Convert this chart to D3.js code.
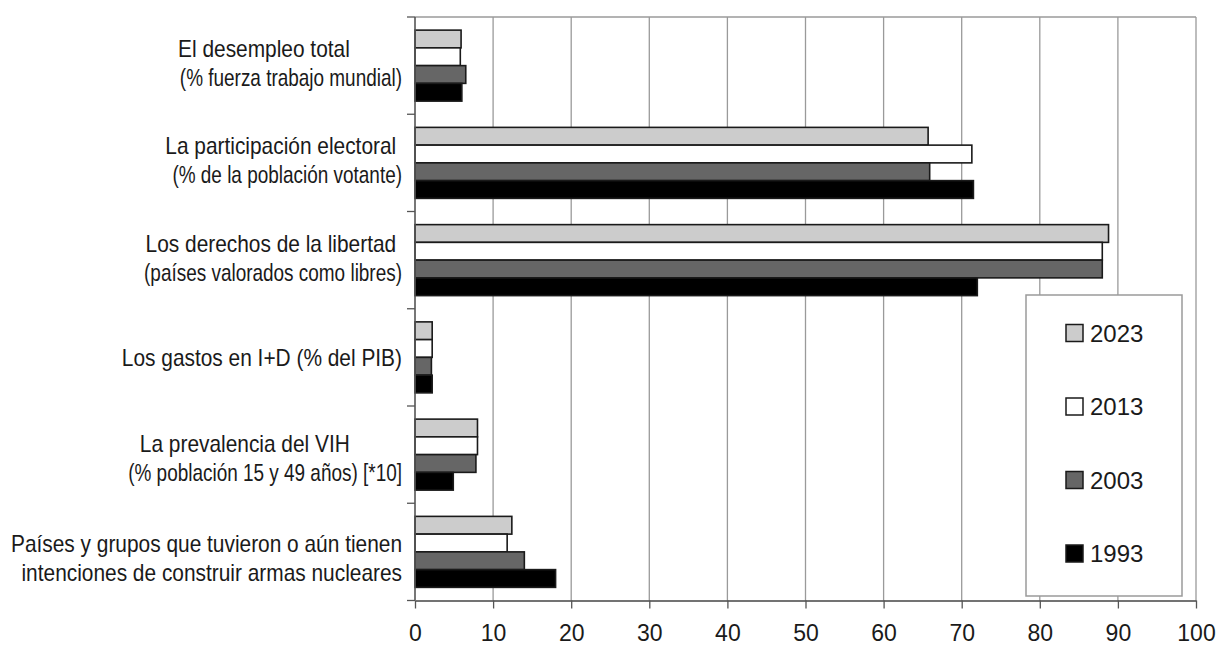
<!DOCTYPE html>
<html>
<head>
<meta charset="utf-8">
<script src="https://cdn.jsdelivr.net/npm/d3@7"></script>
<style>
  html, body { margin: 0; padding: 0; background: #fff; }
  svg { display: block; font-family: "Liberation Sans", Arial, sans-serif; }
  .lbl { white-space: pre; }
</style>
</head>
<body>
<svg id="chart" width="1217" height="646"></svg>
<script>
// ---- data ----
const categories = ["desempleo", "participacion", "libertad", "gastos", "vih", "nucleares"];
const categoryLabels = [
  ["El desempleo total         ", "(% fuerza trabajo mundial)"],
  ["La participación electoral ", "(% de la población votante)"],
  ["Los derechos de la libertad ", "(países valorados como libres)"],
  ["Los gastos en I+D (% del PIB)"],
  ["La prevalencia del VIH         ", "(% población 15 y 49 años) [*10]"],
  ["Países y grupos que tuvieron o aún tienen", "intenciones de construir armas nucleares"]
];
const years = ["2023", "2013", "2003", "1993"];
const values2023 = [5.9, 65.7, 88.8, 2.2, 8.0, 12.4];
const values2013 = [5.8, 71.3, 88.0, 2.2, 8.0, 11.8];
const values2003 = [6.5, 65.9, 88.0, 2.1, 7.8, 14.0];
const values1993 = [6.0, 71.5, 72.0, 2.2, 4.9, 18.0];
const xTicks = [0, 10, 20, 30, 40, 50, 60, 70, 80, 90, 100];

const seriesValues = { "2023": values2023, "2013": values2013, "2003": values2003, "1993": values1993 };
const colors = { "2023": "#cccccc", "2013": "#ffffff", "2003": "#666666", "1993": "#000000" };

// ---- layout ----
const pLeft = 415, pRight = 1196, pTop = 17, pBottom = 600.5;
const svg = d3.select("#chart");

const x = d3.scaleLinear().domain([0, 100]).range([pLeft, pRight]);
const y = d3.scaleBand().domain(categories).range([pTop, pBottom]).paddingInner(0.27).paddingOuter(0.135);
const y1 = d3.scaleBand().domain(years).range([0, y.bandwidth()]).padding(0);

// gridlines
svg.append("g").selectAll("line").data(xTicks.slice(1)).join("line")
  .attr("x1", d => x(d)).attr("x2", d => x(d))
  .attr("y1", pTop).attr("y2", pBottom)
  .attr("stroke", "#9a9a9a").attr("stroke-width", 1.3);
// top border
svg.append("line").attr("x1", pLeft).attr("x2", pRight).attr("y1", pTop).attr("y2", pTop)
  .attr("stroke", "#9a9a9a").attr("stroke-width", 1.5);

// bars
const groups = svg.append("g").selectAll("g").data(categories).join("g")
  .attr("transform", d => `translate(0,${y(d)})`);
groups.selectAll("rect").data((c, i) => years.map(yr => ({ yr, v: seriesValues[yr][i] })))
  .join("rect")
  .attr("x", x(0))
  .attr("y", d => y1(d.yr))
  .attr("width", d => x(d.v) - x(0))
  .attr("height", y1.bandwidth())
  .attr("fill", d => colors[d.yr])
  .attr("stroke", "#1a1a1a").attr("stroke-width", 1.6);

// left axis
const stepOff = (y.step() - y.bandwidth()) / 2;
const boundaries = categories.map(c => y(c) - stepOff).concat([pBottom]);
svg.append("line").attr("x1", pLeft).attr("x2", pLeft).attr("y1", pTop).attr("y2", pBottom)
  .attr("stroke", "#555").attr("stroke-width", 1.6);
svg.append("g").selectAll("line").data(boundaries).join("line")
  .attr("x1", pLeft - 8).attr("x2", pLeft).attr("y1", d => d).attr("y2", d => d)
  .attr("stroke", "#555").attr("stroke-width", 1.3);

// bottom axis
const xAxis = svg.append("g").attr("transform", `translate(0,${pBottom})`)
  .call(d3.axisBottom(x).tickValues(xTicks).tickSize(8).tickPadding(16).tickSizeOuter(0));
xAxis.select(".domain").attr("stroke", "#444").attr("stroke-width", 1.6);
xAxis.selectAll(".tick line").attr("stroke", "#555").attr("stroke-width", 1.3);
xAxis.selectAll(".tick text").attr("font-size", 23).attr("fill", "#1a1a1a")
  .attr("font-family", "Liberation Sans, Arial, sans-serif");

// category labels
const lineH = 29;
const labelShift = i => -2.5 + Math.max(0, i - 2) * 3;
const labelG = svg.append("g").selectAll("g").data(categories).join("g")
  .attr("transform", (d, i) => `translate(402,${y(d) + y.bandwidth() / 2 + labelShift(i)})`);
labelG.each(function(c, i) {
  const lines = categoryLabels[i];
  d3.select(this).selectAll("text").data(lines).join("text")
    .attr("class", "lbl")
    .attr("transform", (l, j) => `translate(0,${(j - (lines.length - 1) / 2) * lineH}) scale(${l.startsWith("(") ? 0.79 : 0.87},1)`)
    .attr("dy", "0.35em")
    .attr("text-anchor", "end")
    .attr("font-size", 24)
    .attr("fill", "#1a1a1a")
    .text(l => l);
});

// legend
const legend = svg.append("g");
legend.append("rect").attr("x", 1026).attr("y", 295).attr("width", 156).attr("height", 301)
  .attr("fill", "#fff").attr("stroke", "#9a9a9a").attr("stroke-width", 1.5);
const items = legend.selectAll("g.item").data(years).join("g").attr("class", "item")
  .attr("transform", (d, i) => `translate(1066,${333 + i * 73.5})`);
items.append("rect").attr("x", 0).attr("y", -8.5).attr("width", 17).attr("height", 17)
  .attr("fill", d => colors[d]).attr("stroke", "#1a1a1a").attr("stroke-width", 1.5);
items.append("text").attr("x", 24).attr("dy", "0.36em").attr("font-size", 24)
  .attr("fill", "#1a1a1a").text(d => d);
</script>
</body>
</html>
